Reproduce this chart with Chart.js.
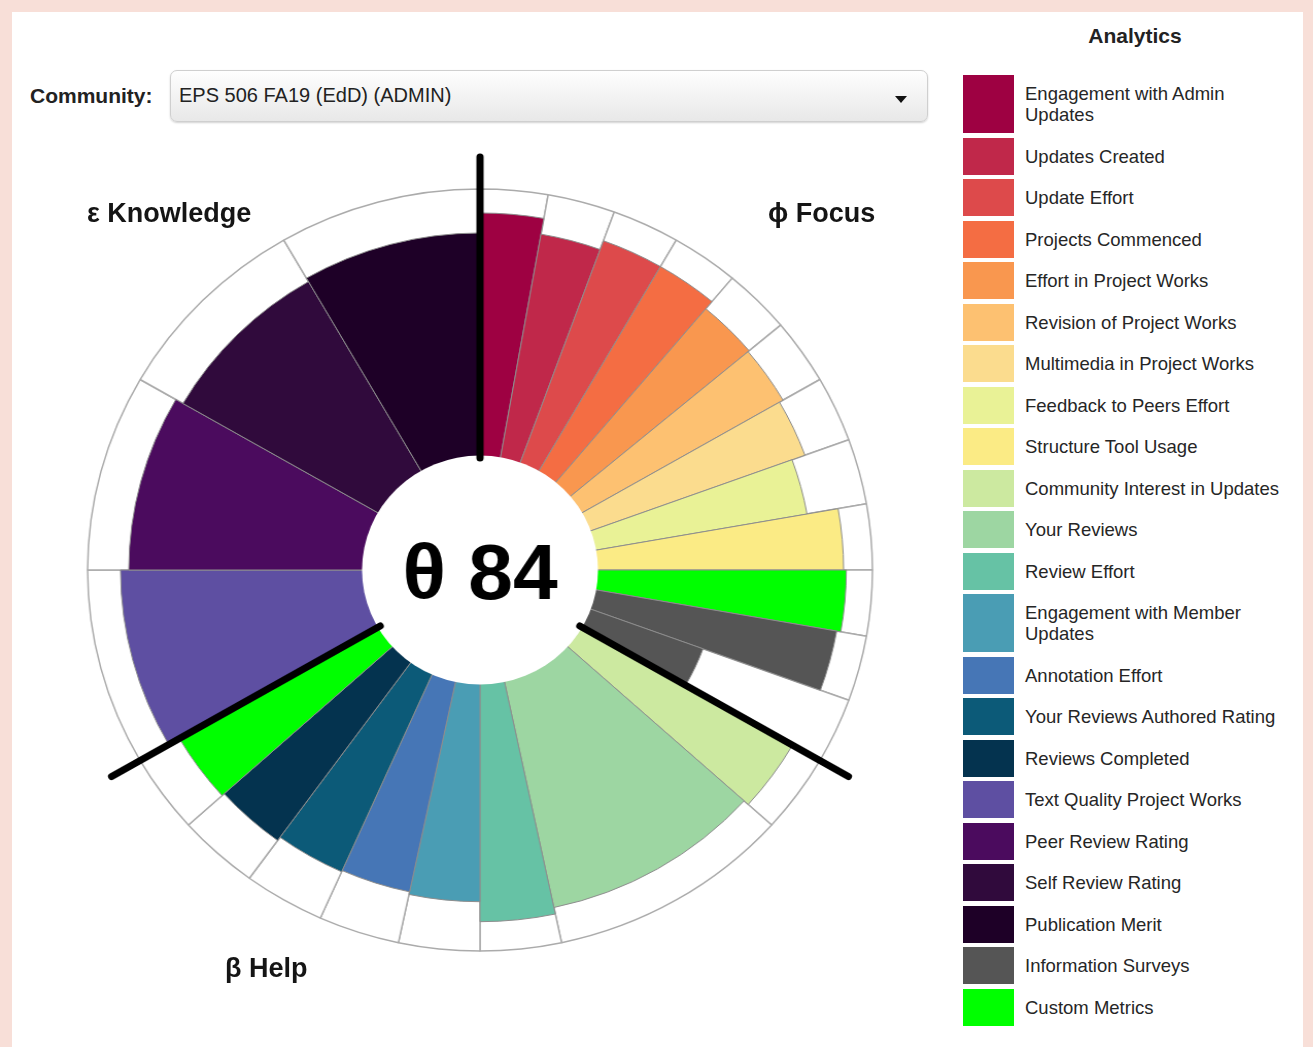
<!DOCTYPE html>
<html>
<head>
<meta charset="utf-8">
<script src="https://cdn.jsdelivr.net/npm/chart.js@4.4.1/dist/chart.umd.min.js"></script>
<style>
  body { margin: 0; background: #f8dfd8; font-family: "Liberation Sans", Arial, Helvetica, sans-serif; }
  .card { position: absolute; left: 12px; top: 12px; width: 1291px; height: 1040px; background: #fff; }
  .abs { position: absolute; }
  .community { left: 30px; top: 84px; font-size: 21px; font-weight: bold; color: #222; }
  .select {
    left: 170px; top: 70px; width: 756px; height: 50px;
    border: 1px solid #cfcfcf; border-radius: 7px;
    background: linear-gradient(#fefefe, #e8e8e8);
    box-shadow: 0 1px 2px rgba(0,0,0,0.18);
  }
  .select span { position: absolute; left: 8px; top: 13px; font-size: 20px; color: #222; }
  .caret { position: absolute; left: 724px; top: 25px; width: 0; height: 0;
    border-left: 6px solid transparent; border-right: 6px solid transparent; border-top: 7px solid #111; }
  .section { font-size: 27px; font-weight: bold; color: #151515; line-height: 30px; }
  .chart-wrap { left: 50px; top: 140px; width: 860px; height: 860px; transform: scaleX(1.03); transform-origin: 50% 50%; }
  .legend-title { left: 1035px; top: 24px; width: 200px; text-align: center; font-size: 21px; font-weight: bold; color: #222; }
  .legend { left: 963px; top: 75px; }
  .legend-item { display: flex; margin-bottom: 4.5px; }
  .legend-box { width: 51px; flex: none; }
  .legend-label { width: 264px; padding: 8px 0 8px 11px; line-height: 21px; font-size: 18.5px; color: #262626; }
</style>
</head>
<body>
<div class="card"></div>
<div class="abs community">Community:</div>
<div class="abs select"><span>EPS 506 FA19 (EdD) (ADMIN)</span><div class="caret"></div></div>

<div class="abs chart-wrap"><canvas id="pulse"></canvas></div>
<div id="sections"></div>

<div class="abs legend-title">Analytics</div>
<div class="abs legend" id="legend"></div>

<script>
// Legend entries (distinct metrics) and their colours
const legendLabels = [
    'Engagement with Admin Updates', 'Updates Created', 'Update Effort', 'Projects Commenced',
    'Effort in Project Works', 'Revision of Project Works', 'Multimedia in Project Works',
    'Feedback to Peers Effort', 'Structure Tool Usage', 'Community Interest in Updates',
    'Your Reviews', 'Review Effort', 'Engagement with Member Updates', 'Annotation Effort',
    'Your Reviews Authored Rating', 'Reviews Completed', 'Text Quality Project Works',
    'Peer Review Rating', 'Self Review Rating', 'Publication Merit', 'Information Surveys',
    'Custom Metrics'
];
const legendColors = [
    '#9e0142', '#c0284a', '#dd4a4b', '#f46d43',
    '#f9974f', '#fdc171', '#fbdc8e',
    '#e9f296', '#fbeb85', '#cce9a0',
    '#9dd6a2', '#66c2a5', '#4a9db4', '#4676b6',
    '#0c5a78', '#04334f', '#5e4fa2',
    '#4b0b5e', '#300a3c', '#1e0027', '#555555',
    '#00ff00'
];

// Slices clockwise from 12 o'clock
const sliceLabels = [
    // Focus
    'Engagement with Admin Updates', 'Updates Created', 'Update Effort', 'Projects Commenced',
    'Effort in Project Works', 'Revision of Project Works', 'Multimedia in Project Works',
    'Feedback to Peers Effort', 'Structure Tool Usage', 'Custom Metrics',
    'Information Surveys', 'Information Surveys',
    // Help
    'Community Interest in Updates', 'Your Reviews', 'Review Effort', 'Engagement with Member Updates',
    'Annotation Effort', 'Your Reviews Authored Rating', 'Reviews Completed', 'Custom Metrics',
    // Knowledge
    'Text Quality Project Works', 'Peer Review Rating', 'Self Review Rating', 'Publication Merit'
];
const sliceAngles = [
    10, 10, 10, 10, 10, 10, 10, 10, 10, 10, 10, 10,
    12, 36, 12, 12, 12, 12, 12, 12,
    30, 30, 30, 30
];
const sliceValues = [
    91, 85, 88.5, 88.5, 85, 84.5, 83, 78, 89.5, 90.5, 89, 43.5,
    88.5, 86.5, 89, 81.5, 80.5, 81, 82.5, 83.5,
    88, 85, 82, 83.5
];

const sectionNames = ['ϕ Focus', 'β Help', 'ε Knowledge'];
const sectionSlices = [12, 8, 4];
const scoreValue = 84;
const ringMax = 100;

// section label placement (page px)
const sectionLabelPos = [[768, 198], [225, 953], [87, 198]];
const sections = document.getElementById('sections');
sectionNames.forEach((name, i) => {
    const el = document.createElement('div');
    el.className = 'abs section';
    el.style.left = sectionLabelPos[i][0] + 'px';
    el.style.top = sectionLabelPos[i][1] + 'px';
    el.textContent = name;
    sections.appendChild(el);
});

// HTML legend
const legend = document.getElementById('legend');
legendLabels.forEach((label, i) => {
    const item = document.createElement('div');
    item.className = 'legend-item';
    const box = document.createElement('div');
    box.className = 'legend-box';
    box.style.background = legendColors[i];
    const text = document.createElement('div');
    text.className = 'legend-label';
    text.textContent = label;
    item.appendChild(box);
    item.appendChild(text);
    legend.appendChild(item);
});

function colorFor(label) {
    return legendColors[legendLabels.indexOf(label)];
}

// white hub, score and the three section dividers
const hubPlugin = {
    id: 'hub',
    afterDatasetsDraw(chart) {
        const s = chart.scales.r;
        const ctx = chart.ctx;
        const cx = s.xCenter, cy = s.yCenter;
        ctx.save();

        const rIn = s.getDistanceFromCenterForValue(0);
        ctx.beginPath();
        ctx.arc(cx, cy, rIn, 0, Math.PI * 2);
        ctx.fillStyle = '#fff';
        ctx.fill();

        const r0 = s.getDistanceFromCenterForValue(-1);
        const r1 = s.getDistanceFromCenterForValue(112);
        ctx.strokeStyle = '#000';
        ctx.lineWidth = 7;
        ctx.lineCap = 'round';
        let idx = 0;
        sectionSlices.forEach(n => {
            let deg = 0;
            for (let k = 0; k < idx; k++) deg += sliceAngles[k];
            const a = (deg - 90) * Math.PI / 180;
            ctx.beginPath();
            ctx.moveTo(cx + r0 * Math.cos(a), cy + r0 * Math.sin(a));
            ctx.lineTo(cx + r1 * Math.cos(a), cy + r1 * Math.sin(a));
            ctx.stroke();
            idx += n;
        });

        ctx.fillStyle = '#000';
        ctx.font = 'bold 78px "Liberation Sans", Arial, sans-serif';
        ctx.textAlign = 'center';
        ctx.textBaseline = 'alphabetic';
        ctx.fillText('θ ' + scoreValue, cx, cy + 29);
        ctx.restore();
    }
};

const ctx = document.getElementById('pulse').getContext('2d');
new Chart(ctx, {
    type: 'polarArea',
    data: {
        labels: sliceLabels,
        datasets: [{
            data: sliceValues,
            backgroundColor: sliceLabels.map(colorFor),
            borderColor: '#8e8e8e',
            borderWidth: 1,
            angle: c => sliceAngles[c.dataIndex]
        }, {
            data: sliceLabels.map(() => ringMax),
            backgroundColor: '#ffffff',
            borderColor: '#ababab',
            borderWidth: 1.5,
            angle: c => sliceAngles[c.dataIndex]
        }]
    },
    options: {
        responsive: true,
        maintainAspectRatio: false,
        animation: false,
        events: [],
        layout: { padding: 49 },
        scales: {
            r: {
                min: -43,
                max: ringMax,
                startAngle: 0,
                ticks: { display: false },
                grid: { display: false },
                angleLines: { display: false },
                pointLabels: { display: false }
            }
        },
        plugins: {
            legend: { display: false },
            tooltip: { enabled: false }
        }
    },
    plugins: [hubPlugin]
});
</script>
</body>
</html>
